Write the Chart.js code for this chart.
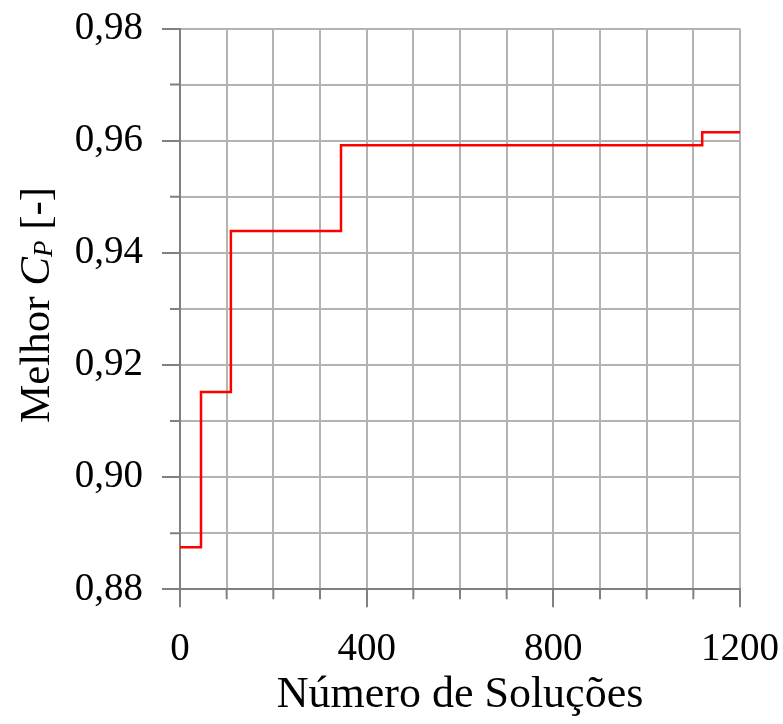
<!DOCTYPE html>
<html>
<head>
<meta charset="utf-8">
<script src="https://cdn.jsdelivr.net/npm/chart.js@4.4.0/dist/chart.umd.min.js"></script>
<style>
  html, body { margin: 0; padding: 0; background: #fff; }
  canvas { display: block; }
</style>
</head>
<body>
<canvas id="chart" width="783" height="724"></canvas>
<script>
// best Cp found so far vs. number of evaluated solutions (step curve)
const solutions = [0, 45, 109, 345, 1119, 1200];
const bestCp = [0.8875, 0.9152, 0.9439, 0.9592, 0.9615, 0.9615];

// labelled ticks; the other grid steps only get a short tick mark
const xLabelTicks = [0, 400, 800, 1200];
const yLabelTicks = [0.88, 0.90, 0.92, 0.94, 0.96, 0.98];

const xTitle = 'Número de Soluções';

const serif = '"Liberation Serif", "Times New Roman", serif';
const gridGray = '#b3b3b3';
const axisGray = '#808080';

const isXLabel = v => xLabelTicks.includes(Math.round(v));
const isYLabel = v => yLabelTicks.some(t => Math.abs(t - v) < 1e-6);

// short tick marks for the unlabelled grid steps
const minorTicks = {
  id: 'minorTicks',
  afterDraw(chart) {
    const { ctx } = chart;
    const x = chart.scales.x, y = chart.scales.y;
    ctx.save();
    ctx.strokeStyle = axisGray;
    ctx.lineWidth = 2;
    ctx.beginPath();
    x.ticks.forEach(t => {
      if (isXLabel(t.value)) return;
      const px = x.getPixelForValue(t.value);
      ctx.moveTo(px, y.bottom);
      ctx.lineTo(px, y.bottom + 10);
    });
    y.ticks.forEach(t => {
      if (isYLabel(t.value)) return;
      const py = y.getPixelForValue(t.value);
      ctx.moveTo(x.left, py);
      ctx.lineTo(x.left - 10, py);
    });
    ctx.stroke();
    ctx.restore();
  }
};

// y title with an italic C and a small P subscript
const yTitle = {
  id: 'yTitle',
  afterDraw(chart) {
    const { ctx, chartArea } = chart;
    const parts = [
      { text: 'Melhor ', font: '43px ' + serif, dy: 0 },
      { text: 'C', font: 'italic 43px ' + serif, dy: 0 },
      { text: 'P', font: 'italic 27px ' + serif, dy: 3 },
      { text: ' [-]', font: '43px ' + serif, dy: 0 }
    ];
    let total = 0;
    parts.forEach(p => { ctx.font = p.font; p.w = ctx.measureText(p.text).width; total += p.w; });
    ctx.save();
    ctx.translate(49, 305);
    ctx.rotate(-Math.PI / 2);
    ctx.fillStyle = '#000';
    ctx.textBaseline = 'alphabetic';
    let cx = -total / 2;
    parts.forEach(p => {
      ctx.font = p.font;
      ctx.fillText(p.text, cx, p.dy);
      cx += p.w;
    });
    ctx.restore();
  }
};

new Chart(document.getElementById('chart'), {
  type: 'line',
  data: {
    datasets: [{
      data: solutions.map((s, i) => ({ x: s, y: bestCp[i] })),
      borderColor: '#ff0000',
      borderWidth: 2.5,
      pointRadius: 0,
      stepped: true,
      fill: false
    }]
  },
  options: {
    responsive: false,
    animation: false,
    devicePixelRatio: 1,
    layout: { padding: { top: 28.5, right: 43, bottom: 0, left: 0 } },
    plugins: { legend: { display: false }, tooltip: { enabled: false } },
    scales: {
      x: {
        type: 'linear',
        min: 0,
        max: 1200,
        afterFit: s => { s.height = 134.7; s.paddingLeft = 0; s.paddingRight = 0; },
        ticks: {
          stepSize: 100,
          autoSkip: false,
          maxRotation: 0,
          padding: 19,
          color: '#000',
          font: { family: serif, size: 39 },
          callback: v => isXLabel(v) ? String(v) : ''
        },
        grid: {
          color: gridGray,
          lineWidth: 2,
          tickLength: 18,
          tickWidth: 2,
          tickColor: c => isXLabel(c.tick.value) ? axisGray : 'transparent'
        },
        border: { color: axisGray, width: 2 },
        title: {
          display: true,
          text: xTitle,
          color: '#000',
          font: { family: serif, size: 44 },
          padding: { top: 0, bottom: 2 }
        }
      },
      y: {
        type: 'linear',
        min: 0.88,
        max: 0.98,
        afterFit: s => { s.width = 180; s.paddingTop = 0; s.paddingBottom = 0; },
        ticks: {
          stepSize: 0.01,
          autoSkip: false,
          padding: 19,
          color: '#000',
          font: { family: serif, size: 39 },
          callback: v => isYLabel(v) ? v.toFixed(2).replace('.', ',') : ''
        },
        grid: {
          color: gridGray,
          lineWidth: 2,
          tickLength: 18,
          tickWidth: 2,
          tickColor: c => isYLabel(c.tick.value) ? axisGray : 'transparent'
        },
        border: { color: axisGray, width: 2 }
      }
    }
  },
  plugins: [minorTicks, yTitle]
});
</script>
</body>
</html>
